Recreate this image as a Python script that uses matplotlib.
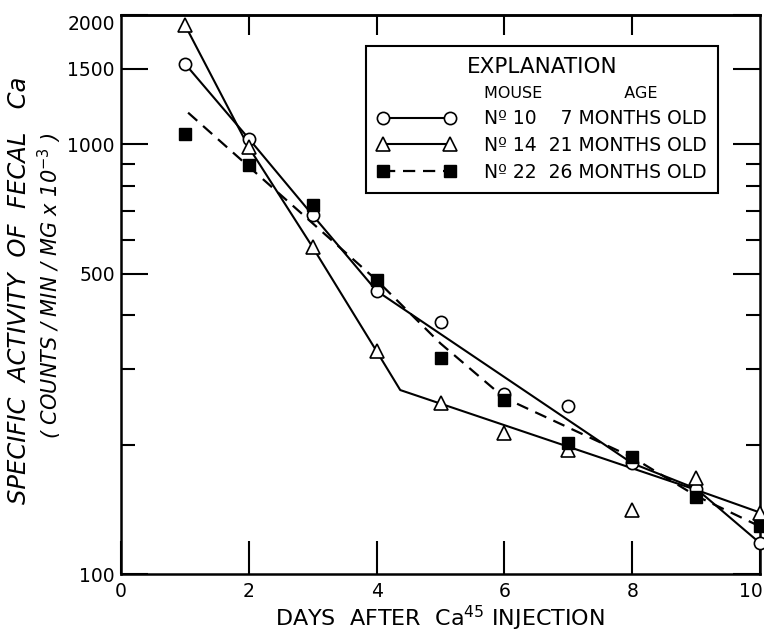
import matplotlib
matplotlib.use("Agg")
import matplotlib.pyplot as plt
from matplotlib.ticker import NullFormatter
from matplotlib.legend_handler import HandlerTuple
from matplotlib.lines import Line2D
from matplotlib.transforms import ScaledTranslation

# ---- data ----
days = [1, 2, 3, 4, 5, 6, 7, 8, 9, 10]
mouse10 = [1541, 1031, 684, 456, 386, 263, 246, 181, 158, 118]
mouse14 = [1897, 984, 576, 330, 250, 213, 194, 141, 167, 139]
mouse22 = [1059, 894, 721, 483, 318, 254, 202, 187, 151, 129]

# drawn (hand-fitted) curves
fit10_days = [1, 2, 3, 4, 8, 9, 10]
fit10_vals = [1541, 1031, 684, 456, 181, 158, 118]
fit14_days = [1, 2, 3, 4, 4.37, 9, 10]
fit14_vals = [1897, 984, 576, 330, 268, 157, 139]
fit22_days = [1.05, 4, 5, 6, 8, 9, 10]
fit22_vals = [1185, 483, 344, 257, 187, 152, 129]

xticks = [0, 2, 4, 6, 8, 10]
yticks_major = [100, 500, 1000, 1500, 2000]
yticks_minor = [200, 300, 400, 600, 700, 800, 900]

legend_header = "MOUSE                AGE"
legend_labels = ["N\u00ba 10    7 MONTHS OLD",
                 "N\u00ba 14  21 MONTHS OLD",
                 "N\u00ba 22  26 MONTHS OLD"]

plt.rcParams["font.family"] = ["DejaVu Sans"]

fig = plt.figure(figsize=(7.64, 6.33), dpi=100)
ax = fig.add_axes([121 / 764, 59 / 633, 639 / 764, 559 / 633])

lw = 1.5
l10, = ax.plot(fit10_days, fit10_vals, color="black", lw=lw, zorder=2)
l14, = ax.plot(fit14_days, fit14_vals, color="black", lw=lw, zorder=2)
l22, = ax.plot(fit22_days, fit22_vals, color="black", lw=1.6,
               dashes=(5.5, 3.5), zorder=2)

p10, = ax.plot(days, mouse10, linestyle="none", marker="o", ms=8.8,
               mfc="white", mec="black", mew=1.2, zorder=4, clip_on=False)
p14, = ax.plot(days, mouse14, linestyle="none", marker="^", ms=9.5,
               mfc="white", mec="black", mew=1.2, zorder=4, clip_on=False)
p22, = ax.plot(days, mouse22, linestyle="none", marker="s", ms=9.0,
               mfc="black", mec="black", mew=1.0, zorder=4, clip_on=False)

ax.set_yscale("log")
ax.set_xlim(0, 10)
ax.set_ylim(100, 2000)

ax.set_xticks(xticks, labels=[str(v) for v in xticks])
ax.set_yticks(yticks_major, labels=[str(v) for v in yticks_major])
ax.set_yticks(yticks_minor, minor=True)
ax.yaxis.set_minor_formatter(NullFormatter())
ax.xaxis.set_minor_locator(plt.NullLocator())

ax.tick_params(axis="x", which="major", direction="in", length=23.8,
               width=1.5, top=False, labelsize=13.5, pad=6)
ax.tick_params(axis="y", which="major", direction="in", length=19.4,
               width=1.5, left=True, right=True, labelsize=13.5, pad=4.5)
ax.tick_params(axis="y", which="minor", direction="in", length=10,
               width=1.5, left=True, right=True)

secx = ax.secondary_xaxis("top")
secx.set_xticks([2, 4, 6, 8], labels=[])
secx.tick_params(direction="in", length=14.4, width=1.5, labeltop=False)
secx.xaxis.set_minor_locator(plt.NullLocator())
secx.spines["top"].set_linewidth(1.8)

for s in ax.spines.values():
    s.set_linewidth(1.8)

lab = ax.get_yticklabels()[-1]
lab.set_transform(lab.get_transform() +
                  ScaledTranslation(0, -7 / 100, fig.dpi_scale_trans))
xlab = ax.get_xticklabels()[-1]
xlab.set_transform(xlab.get_transform() +
                   ScaledTranslation(-9 / 100, 0, fig.dpi_scale_trans))

fig.text(440 / 764, 1 - 626 / 633, "DAYS  AFTER  Ca$^{45}$ INJECTION",
         ha="center", va="baseline", fontsize=16)

fig.text(19 / 764, 1 - 290 / 633, "SPECIFIC  ACTIVITY  OF  FECAL   Ca",
         rotation=90, ha="center", va="center", fontsize=17.5,
         style="italic")
fig.text(50 / 764, 1 - 286 / 633, "( COUNTS / MIN / MG x 10$^{-3}$ )",
         rotation=90, ha="center", va="center", fontsize=15,
         style="italic")

header = Line2D([], [], linestyle="none")
leg = ax.legend([header, (l10, p10), (l14, p14), (l22, p22)],
                [legend_header] + legend_labels,
                handler_map={tuple: HandlerTuple(ndivide=1)},
                numpoints=2, loc="upper right",
                bbox_to_anchor=(0.934, 0.9445), borderaxespad=0,
                fontsize=13.5, title="EXPLANATION", title_fontsize=15.5,
                frameon=True, fancybox=False, edgecolor="black",
                framealpha=1, handlelength=4.2, handletextpad=1.5,
                labelspacing=0.42, borderpad=0.6)
leg.get_frame().set_linewidth(1.5)
leg.get_texts()[0].set_fontsize(11.5)

fig.savefig("out.png", dpi=100, facecolor="white")
